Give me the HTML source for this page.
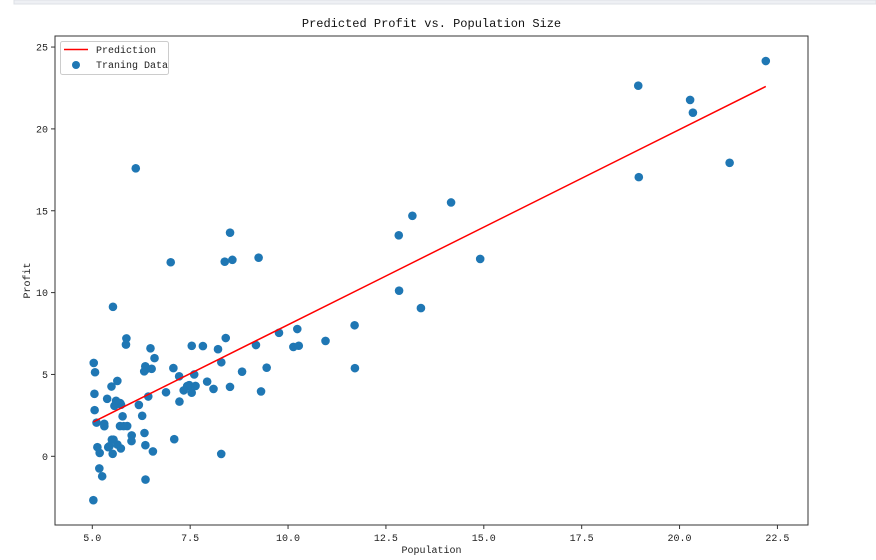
<!DOCTYPE html>
<html><head><meta charset="utf-8"><style>
body{margin:0;background:#fff;}
svg{display:block;font-family:"Liberation Mono","DejaVu Sans Mono",monospace;}
</style></head><body>
<svg width="876" height="560">
<rect x="14" y="0" width="862" height="4" fill="#eef0f4" stroke="#dde0e6"/>
<g id="plot"></g>
</svg>
<script>
const popX=[6.1101,5.5277,8.5186,7.0032,5.8598,8.3829,7.4764,8.5781,6.4862,5.0546,5.7107,14.164,5.734,8.4084,5.6407,5.3794,6.3654,5.1301,6.4296,7.0708,6.1891,20.27,5.4901,6.3261,5.5649,18.945,12.828,10.957,13.176,22.203,5.2524,6.5894,9.2482,5.8918,8.2111,7.9334,8.0959,5.6063,12.836,6.3534,5.4069,6.8825,11.708,5.7737,7.8247,7.0931,5.0702,5.8014,11.7,5.5416,7.5402,5.3077,7.4239,7.6031,6.3328,6.3589,6.2742,5.6397,9.3102,9.4536,8.8254,5.1793,21.279,14.908,18.959,7.2182,8.2951,10.236,5.4994,20.341,10.136,7.3345,6.0062,7.2259,5.0269,6.5479,7.5386,5.0365,10.274,5.1077,5.7292,5.1884,6.3557,9.7687,6.5159,8.5172,9.1802,6.002,5.5204,5.0594,5.7077,7.6366,5.8707,5.3054,8.2934,13.394,5.4369];
const profitY=[17.592,9.1302,13.662,11.854,6.8233,11.886,4.3483,12,6.5987,3.8166,3.2522,15.505,3.1551,7.2258,0.71618,3.5129,5.3048,0.56077,3.6518,5.3893,3.1386,21.767,4.263,5.1875,3.0825,22.638,13.501,7.0467,14.692,24.147,-1.22,5.9966,12.134,1.8495,6.5426,4.5623,4.1164,3.3928,10.117,5.4974,0.55657,3.9115,5.3854,2.4406,6.7318,1.0463,5.1337,1.844,8.0043,1.0179,6.7504,1.8396,4.2885,4.9981,1.4233,-1.4211,2.4756,4.6042,3.9624,5.4141,5.1694,-0.74279,17.929,12.054,17.054,4.8852,5.7442,7.7754,1.0173,20.992,6.6799,4.0259,1.2784,3.3411,-2.6807,0.29678,3.8845,5.7014,6.7526,2.0576,0.47953,0.20421,0.67861,7.5435,5.3436,4.2415,6.7981,0.92695,0.152,2.8214,1.8451,4.2959,7.2029,1.9869,0.14454,9.0551,0.61705];
const theta=[-3.8958,1.1930];
const xTicks=[5.0,7.5,10.0,12.5,15.0,17.5,20.0,22.5];
const yTicks=[0,5,10,15,20,25];
const NS="http://www.w3.org/2000/svg";
const L=55,R=808,T=36,B=525;
function sx(v){return 92.3+(v-5)*39.15;}
function sy(v){return 456.3-v*16.37;}
const g=document.getElementById('plot');
function mk(t,a,txt){const e=document.createElementNS(NS,t);for(const k in a)e.setAttribute(k,a[k]);if(txt!==undefined)e.textContent=txt;g.appendChild(e);return e;}
let e=mk('rect',{x:L,y:T,width:R-L,height:B-T,fill:'#fff',stroke:'#333','stroke-width':1});


xTicks.forEach(v=>{const x=sx(v);
 let t=mk('line',{x1:x,x2:x,y1:B,y2:B+4,stroke:'#333'});
 
 
 let l=mk('text',{x:x,y:B+16,'font-size':10,'text-anchor':'middle',fill:'#222'},v.toFixed(1));
 
 });
yTicks.forEach(v=>{const y=sy(v);
 let t=mk('line',{x1:L-4,x2:L,y1:y,y2:y,stroke:'#333'});
 
 
 let l=mk('text',{x:L-7,y:y+3.5,'font-size':10,'text-anchor':'end',fill:'#222'},String(v));
 
 });
popX.forEach((v,i)=>{let c=mk('circle',{cx:sx(v),cy:sy(profitY[i]),r:4.3,fill:'#1f77b4'});
 
 });
const x0=Math.min(...popX),x1=Math.max(...popX);
e=mk('line',{x1:sx(x0),y1:sy(theta[0]+theta[1]*x0),x2:sx(x1),y2:sy(theta[0]+theta[1]*x1),stroke:'#ff0000','stroke-width':1.5});


e=mk('text',{x:(L+R)/2,y:27,'font-size':12,'text-anchor':'middle',fill:'#111'},'Predicted Profit vs. Population Size');


e=mk('text',{x:(L+R)/2,y:553,'font-size':10,'text-anchor':'middle',fill:'#222'},'Population');


e=mk('text',{x:30,y:(T+B)/2,'font-size':10,'text-anchor':'middle',fill:'#222',transform:'rotate(-90 30 '+((T+B)/2)+')'},'Profit');


e=mk('rect',{x:60.5,y:41.5,width:108,height:33,rx:2,fill:'#fff',stroke:'#ccc'});


e=mk('line',{x1:64,x2:88,y1:49.5,y2:49.5,stroke:'#ff0000','stroke-width':1.5});


e=mk('text',{x:96,y:53,'font-size':10,fill:'#222'},'Prediction');


e=mk('circle',{cx:76,cy:65,r:4,fill:'#1f77b4'});


e=mk('text',{x:96,y:68,'font-size':10,fill:'#222'},'Traning Data');


</script>
</body></html>
